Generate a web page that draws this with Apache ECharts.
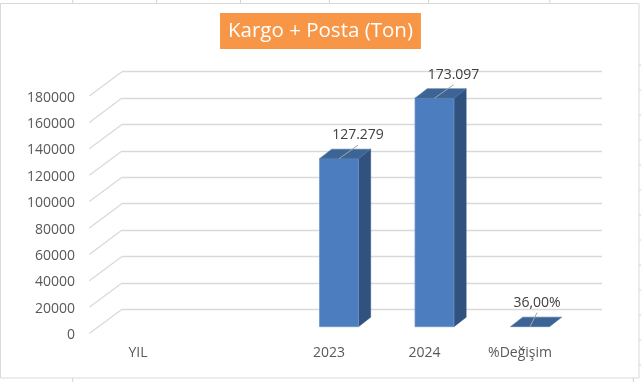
<!DOCTYPE html>
<html><head><meta charset="utf-8">
<script src="https://cdn.jsdelivr.net/npm/echarts@6/dist/echarts.min.js"></script>
<style>html,body{margin:0;padding:0;background:#fff}#c{width:641px;height:382px}</style>
</head><body><div id="c"></div>
<script>
// ---- data ----
const titleText = 'Kargo + Posta (Ton)';
const categories = ['YIL', '', '2023', '2024', '%Değişim'];
const values = [null, null, 127279, 173097, 36];
const valueLabels = ['', '', '127.279', '173.097', '36,00%'];
const yTicks = [0, 20000, 40000, 60000, 80000, 100000, 120000, 140000, 160000, 180000];
const yTickLabels = ['0', '20000', '40000', '60000', '80000', '100000', '120000', '140000', '160000', '180000'];
const yMin = 0, yMax = 180000, yInterval = 20000;

// ---- style ----
const FONT = '"Open Sans", "Noto Sans", sans-serif';
const GRID_COLOR = '#d9d9d9';
const DEPTH_DX = -32.7, DEPTH_DY = 24.3;     // floor depth (back -> front)
const BAR_DX = 12.2, BAR_DY = -9.5;          // bar depth
const BAR_W_RATIO = 0.408;

const chart = echarts.init(document.getElementById('c'), null, {renderer: 'canvas'});

function barItem(params, api) {
  const v = api.value(1);
  if (v === null || v === undefined || isNaN(v)) return;
  const x = api.value(0);
  const p0 = api.coord([x, 0]);
  const p1 = api.coord([x, v]);
  const w = api.size([1, 0])[0] * BAR_W_RATIO;
  const xl = p0[0] - w / 2, xr = p0[0] + w / 2;
  const yb = p0[1], yt = p1[1];
  const children = [];
  if (yb - yt > 0.5) {
    children.push({type: 'polygon', shape: {points: [[xr, yt], [xr + BAR_DX, yt + BAR_DY], [xr + BAR_DX, yb + BAR_DY], [xr, yb]]},
      style: {fill: '#31527f', stroke: '#31527f', lineWidth: 0.5}});
    children.push({type: 'rect', shape: {x: xl, y: yt, width: w, height: yb - yt},
      style: {fill: '#4c7dbe', stroke: '#6d95cb', lineWidth: 0.8}});
  }
  children.push({type: 'polygon', shape: {points: [[xl, yt], [xr, yt], [xr + BAR_DX, yt + BAR_DY], [xl + BAR_DX, yt + BAR_DY]]},
    style: {fill: '#3c6596', stroke: '#4a73a6', lineWidth: 0.6}});
  // data label with leader line
  const flat = (yb - yt) < 5;
  const lx = p0[0] + (flat ? 7 : 19);
  const ly = yt + (flat ? -14 : -13.5);
  children.push({type: 'line', shape: {x1: p0[0], y1: yt, x2: lx, y2: ly},
    style: {stroke: '#a6a6a6', lineWidth: 1}});
  children.push({type: 'text', style: {text: api.value(2), x: lx, y: ly - 3, align: 'center', verticalAlign: 'bottom',
    font: '14px ' + FONT, fill: '#404040'}});
  return {type: 'group', children};
}

function diagItem(params, api) {
  const p = api.coord([0, api.value(1)]);
  return {type: 'line', shape: {x1: p[0], y1: p[1], x2: p[0] + DEPTH_DX, y2: p[1] + DEPTH_DY},
    style: {stroke: GRID_COLOR, lineWidth: 1.2}};
}

const sheetTicks = [];
[72.7, 156.6, 240.5, 329.4, 428.5, 549.8].forEach(x => sheetTicks.push({type: 'line', shape: {x1: x, y1: 0, x2: x, y2: 3}, style: {stroke: '#d4d4d4', lineWidth: 1}}));
[72.7, 633.3].forEach(x => sheetTicks.push({type: 'line', shape: {x1: x, y1: 378, x2: x, y2: 382}, style: {stroke: '#d4d4d4', lineWidth: 1}}));
for (let y = 65; y < 378; y += 25) sheetTicks.push({type: 'line', shape: {x1: 639, y1: y, x2: 641, y2: y}, style: {stroke: '#d4d4d4', lineWidth: 1}});

const option = {
  animation: false,
  backgroundColor: '#ffffff',
  title: {
    text: titleText, left: 'center', top: 13,
    backgroundColor: '#F79646', padding: [5, 8, 5, 8],
    textStyle: {color: '#ffffff', fontFamily: FONT, fontSize: 20.5, fontWeight: 'normal', lineHeight: 26}
  },
  graphic: [
    {type: 'rect', shape: {x: 0.5, y: 3.5, width: 638.5, height: 374.5}, style: {fill: 'none', stroke: '#d9d9d9', lineWidth: 1}, z: -1},
    ...sheetTicks
  ],
  grid: [
    {left: 122, right: 39, top: 71.7, height: 237.6},     // back wall
    {left: 89, right: 72, top: 97.7, height: 237.6},      // front y labels
    {left: 100.25, right: 63.25, top: 89.1, height: 237.6} // bars plane
  ],
  xAxis: [
    {gridIndex: 0, type: 'value', min: 0, max: 1, show: false},
    {gridIndex: 1, type: 'value', min: 0, max: 1, show: false},
    {gridIndex: 2, type: 'category', data: categories,
      axisLine: {show: false}, axisTick: {show: false},
      axisLabel: {margin: 19, interval: 0, color: '#595959', fontFamily: FONT, fontSize: 14, padding: [0, 20, 0, 0]}}
  ],
  yAxis: [
    {gridIndex: 0, type: 'value', min: yMin, max: yMax, interval: yInterval,
      axisLine: {show: false}, axisTick: {show: false}, axisLabel: {show: false},
      splitLine: {show: true, lineStyle: {color: GRID_COLOR, width: 1.4}}},
    {gridIndex: 1, type: 'value', min: yMin, max: yMax, interval: yInterval,
      axisLine: {show: false}, axisTick: {show: false}, splitLine: {show: false},
      axisLabel: {margin: 14, color: '#595959', fontFamily: FONT, fontSize: 14,
        formatter: v => { const i = yTicks.indexOf(v); return i >= 0 ? yTickLabels[i] : ''; }}},
    {gridIndex: 2, type: 'value', min: yMin, max: yMax, interval: yInterval, show: false}
  ],
  series: [
    {type: 'custom', xAxisIndex: 0, yAxisIndex: 0, clip: false, renderItem: diagItem,
      data: yTicks.map(v => [0, v]), silent: true},
    {type: 'custom', xAxisIndex: 2, yAxisIndex: 2, clip: false, renderItem: barItem,
      encode: {x: 0, y: 1},
      data: categories.map((c, i) => [i, values[i], valueLabels[i]]), z: 5}
  ]
};
chart.setOption(option);
</script>
</body></html>
